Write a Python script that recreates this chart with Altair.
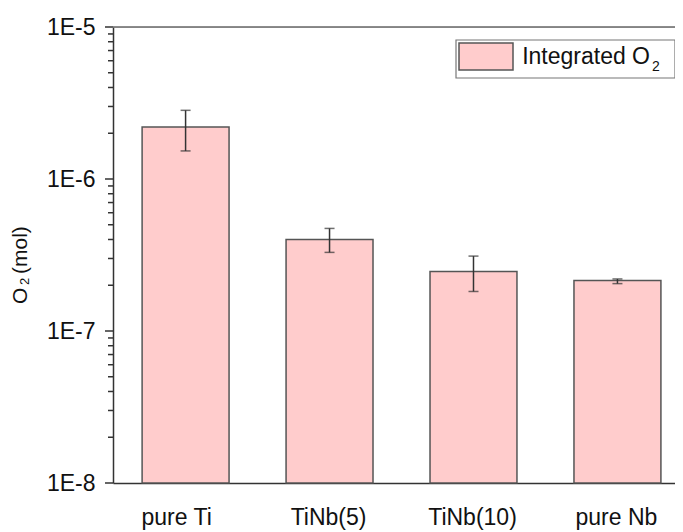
import altair as alt
import pandas as pd

categories = ["pure Ti", "TiNb(5)", "TiNb(10)", "pure Nb"]
values = [2.2e-6, 4.0e-7, 2.46e-7, 2.15e-7]
err_low = [1.53e-6, 3.29e-7, 1.82e-7, 2.05e-7]
err_high = [2.83e-6, 4.73e-7, 3.11e-7, 2.2e-7]

major_ticks = [1e-8, 1e-7, 1e-6, 1e-5]
minor_ticks = [
    2e-8, 3e-8, 4e-8, 5e-8, 6e-8, 7e-8, 8e-8, 9e-8,
    2e-7, 3e-7, 4e-7, 5e-7, 6e-7, 7e-7, 8e-7, 9e-7,
    2e-6, 3e-6, 4e-6, 5e-6, 6e-6, 7e-6, 8e-6, 9e-6,
]

df = pd.DataFrame({"cat": categories, "val": values, "lo": err_low, "hi": err_high})
minor_df = pd.DataFrame({"v": minor_ticks})
major_df = pd.DataFrame({"v": major_ticks})

W, H = 562, 456
FONT = "Liberation Sans"
AX = "#333333"

xenc = alt.X(
    "cat:N",
    sort=categories,
    scale=alt.Scale(domain=categories, paddingInner=0.396, paddingOuter=0.15, align=0.674),
    axis=alt.Axis(
        title=None, ticks=False, labelAngle=0, labelPadding=23, labelFontSize=23,
        labelFont=FONT, labelColor="#111111", domainColor=AX, domainWidth=1.5,
        labelOffset={"condition": {"test": "datum.value == 'pure Ti'", "value": -9}, "value": -1},
        grid=False,
    ),
)

yscale = alt.Scale(type="log", domain=[1e-8, 1e-5], nice=False)
yaxis = alt.Axis(
    title=None,
    values=major_ticks,
    labelExpr="'1E' + round(log(datum.value)/LN10)",
    ticks=False,
    domainColor=AX, domainWidth=1.5,
    labelFontSize=23, labelFont=FONT, labelColor="#111111", labelPadding=18,
    labelOverlap=False, labelBaseline="middle", grid=False,
)

base = alt.Chart(df)

bars = base.mark_bar(fill="#FFCCCC", stroke="#555555", strokeWidth=1.5).encode(
    x=xenc,
    y=alt.Y("val:Q", scale=yscale, axis=yaxis),
    y2=alt.datum(1e-8),
)

err_rule = base.mark_rule(color=AX, strokeWidth=1.5).encode(
    x=xenc, y=alt.Y("lo:Q", scale=yscale, axis=yaxis), y2="hi:Q"
)
cap_lo = base.mark_tick(color=AX, size=10, thickness=1.5, orient="horizontal").encode(
    x=xenc, y=alt.Y("lo:Q", scale=yscale, axis=yaxis)
)
cap_hi = base.mark_tick(color=AX, size=10, thickness=1.5, orient="horizontal").encode(
    x=xenc, y=alt.Y("hi:Q", scale=yscale, axis=yaxis)
)

minor = alt.Chart(minor_df).mark_rule(color="#333333", strokeWidth=1.5).encode(
    x=alt.value(-5), x2=alt.value(0),
    y=alt.Y("v:Q", scale=yscale, axis=yaxis),
)
major = alt.Chart(major_df).mark_rule(color="#333333", strokeWidth=1.5).encode(
    x=alt.value(-8), x2=alt.value(0),
    y=alt.Y("v:Q", scale=yscale, axis=yaxis),
)

one = alt.Data(values=[{}])

top_line = alt.Chart(one).mark_rule(color="#666666", strokeWidth=1.5).encode(
    x=alt.value(-8), x2=alt.value(W + 8), y=alt.value(0)
)

legend_box = alt.Chart(one).mark_rect(fill="white", stroke="#777777", strokeWidth=1.2).encode(
    x=alt.value(343), x2=alt.value(562), y=alt.value(13), y2=alt.value(51)
)
legend_swatch = alt.Chart(one).mark_rect(fill="#FFCCCC", stroke="#555555", strokeWidth=1.5).encode(
    x=alt.value(346), x2=alt.value(400), y=alt.value(16), y2=alt.value(43)
)
legend_text = alt.Chart(one).mark_text(
    align="right", baseline="alphabetic", fontSize=23, font=FONT, color="#111111"
).encode(x=alt.value(537), y=alt.value(36.5), text=alt.value("Integrated O"))
legend_sub = alt.Chart(one).mark_text(
    align="left", baseline="alphabetic", fontSize=14, font=FONT, color="#111111"
).encode(x=alt.value(539), y=alt.value(44), text=alt.value("2"))

ytitle_o = alt.Chart(one).mark_text(
    align="left", baseline="alphabetic", angle=270, fontSize=21, font=FONT, color="#111111"
).encode(x=alt.value(-86), y=alt.value(277), text=alt.value("O"))
ytitle_2 = alt.Chart(one).mark_text(
    align="left", baseline="alphabetic", angle=270, fontSize=13, font=FONT, color="#111111"
).encode(x=alt.value(-84), y=alt.value(258), text=alt.value("2"))
ytitle_rest = alt.Chart(one).mark_text(
    align="left", baseline="alphabetic", angle=270, fontSize=21, font=FONT, color="#111111"
).encode(x=alt.value(-86), y=alt.value(247), text=alt.value("(mol)"))

chart = alt.layer(
    bars, err_rule, cap_lo, cap_hi, minor, major, top_line,
    legend_box, legend_swatch, legend_text, legend_sub,
    ytitle_o, ytitle_2, ytitle_rest,
).properties(
    width=W, height=H,
    autosize=alt.AutoSizeParams(type="none"),
    padding={"left": 105, "top": 19, "right": 0, "bottom": 49},
).configure_view(stroke=None).configure(background="white")

chart.save("out.html", embed_options={"renderer": "svg", "actions": False})
